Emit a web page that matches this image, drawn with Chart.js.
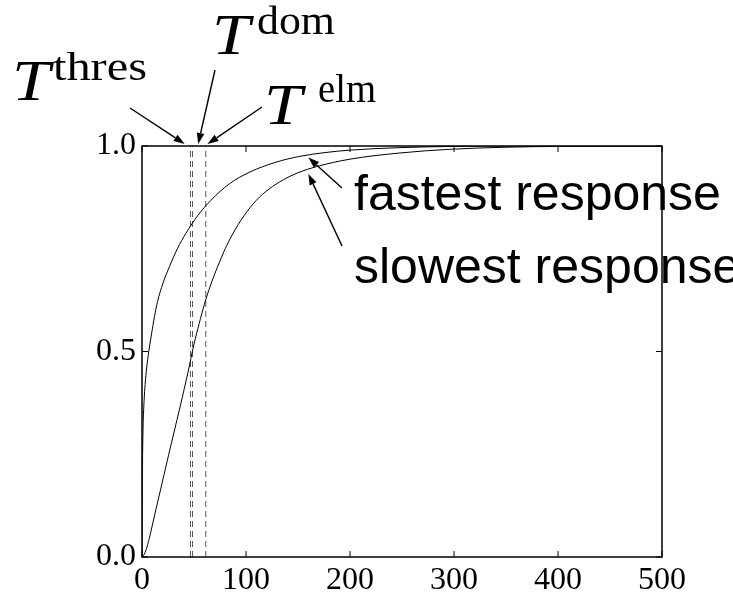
<!DOCTYPE html>
<html>
<head>
<meta charset="utf-8">
<script src="https://cdn.jsdelivr.net/npm/chart.js@4.4.1/dist/chart.umd.min.js"></script>
<style>
  html, body { margin: 0; padding: 0; background: #fff; }
  canvas { display: block; }
</style>
</head>
<body>
<canvas id="chart" width="733" height="593"></canvas>
<script>
// values: time vs normalised response
const fastT = [0, 0.3, 0.7, 1.2, 2, 3, 4.5, 6.5, 9, 12, 15, 20, 26.3, 34, 42.3, 54, 66.3, 84, 104, 128, 152, 176, 200, 248, 300, 350, 500];
const fastY = [0, 0.17, 0.27, 0.33, 0.38, 0.42, 0.46, 0.5, 0.54, 0.585, 0.622, 0.665, 0.706, 0.75, 0.788, 0.832, 0.868, 0.908, 0.937, 0.96, 0.975, 0.984, 0.99, 0.996, 0.999, 1, 1];
const slowT = [0, 2, 4, 7, 10, 13.5, 17.5, 21.5, 29.5, 37.5, 44, 50, 55, 60, 66, 72.8, 80, 87.2, 98, 110, 122, 136, 150, 168, 200, 248, 296, 350, 400, 500];
const slowY = [0, 0.006, 0.018, 0.045, 0.078, 0.117, 0.16, 0.204, 0.29, 0.375, 0.447, 0.518, 0.568, 0.615, 0.662, 0.707, 0.75, 0.786, 0.83, 0.868, 0.895, 0.918, 0.935, 0.95, 0.968, 0.983, 0.992, 0.997, 0.999, 1];

// dashed time markers
const markerNames = ["thres", "dom", "elm"];
const markerTimes = [46.6, 48.6, 61.3];

const xTicks = [0, 100, 200, 300, 400, 500];
const yTicks = [0, 0.5, 1];
const curveNames = ["fastest response", "slowest response"];

const pts = (ts, ys) => ts.map((t, i) => ({ x: t, y: ys[i] }));

const datasets = [
  { data: pts(fastT, fastY), borderColor: "#000", borderWidth: 1, cubicInterpolationMode: "monotone" },
  { data: pts(slowT, slowY), borderColor: "#000", borderWidth: 1, cubicInterpolationMode: "monotone" },
];
markerTimes.forEach((t) => {
  datasets.push({
    data: [{ x: t, y: 0 }, { x: t, y: 1 }],
    borderColor: "#555",
    borderWidth: 1,
    borderDash: [6, 4],
  });
});

function arrow(ctx, x1, y1, x2, y2) {
  const ang = Math.atan2(y2 - y1, x2 - x1);
  const len = 11, half = 3.8;
  const bx = x2 - len * Math.cos(ang), by = y2 - len * Math.sin(ang);
  ctx.beginPath();
  ctx.moveTo(x1, y1);
  ctx.lineTo(bx, by);
  ctx.stroke();
  ctx.beginPath();
  ctx.moveTo(x2, y2);
  ctx.lineTo(bx + half * Math.sin(ang), by - half * Math.cos(ang));
  ctx.lineTo(bx - half * Math.sin(ang), by + half * Math.cos(ang));
  ctx.closePath();
  ctx.fill();
}

// draw text stretched horizontally to a given width
function fitText(ctx, str, x, y, width) {
  const sx = width / ctx.measureText(str).width;
  ctx.save();
  ctx.translate(x, y);
  ctx.scale(sx, 1);
  ctx.fillText(str, 0, 0);
  ctx.restore();
}

// frame, inward ticks on every side, labels and arrows
const decorations = {
  id: "decorations",
  afterDatasetsDraw(chart) {
    const { ctx, chartArea: a, scales: { x, y } } = chart;
    ctx.save();
    ctx.strokeStyle = "#000";
    ctx.fillStyle = "#000";
    ctx.lineWidth = 1.5;
    ctx.strokeRect(a.left, a.top, a.right - a.left, a.bottom - a.top);

    ctx.lineWidth = 1;
    ctx.beginPath();
    xTicks.forEach((v) => {
      const px = x.getPixelForValue(v);
      ctx.moveTo(px, a.bottom); ctx.lineTo(px, a.bottom - 6);
      ctx.moveTo(px, a.top); ctx.lineTo(px, a.top + 6);
    });
    yTicks.forEach((v) => {
      const py = y.getPixelForValue(v);
      ctx.moveTo(a.left, py); ctx.lineTo(a.left + 6, py);
      ctx.moveTo(a.right, py); ctx.lineTo(a.right - 6, py);
    });
    ctx.stroke();

    // T labels above the plot
    const top = y.getPixelForValue(1) - 2;
    const tips = [41, 54, 63];
    const starts = [[130, 108], [215, 70], [262, 107]];
    const tPos = [[12, 100], [212, 54], [264, 124]];
    const supPos = [[53, 80], [257, 34], [318, 102]];
    const supWidth = [94, 78, 58];
    ctx.lineWidth = 1.4;
    ctx.textBaseline = "alphabetic";
    ctx.textAlign = "left";
    markerNames.forEach((name, i) => {
      arrow(ctx, starts[i][0], starts[i][1], x.getPixelForValue(tips[i]), top);
      ctx.font = 'italic 58px "Liberation Serif"';
      fitText(ctx, "T", tPos[i][0], tPos[i][1], 38);
      ctx.font = '40px "Liberation Serif"';
      fitText(ctx, name, supPos[i][0], supPos[i][1], supWidth[i]);
    });

    // curve labels
    const curveTips = [[160, 0.972], [160, 0.932]];
    const curveStarts = [[342, 188], [342, 246]];
    const textBase = [210, 283];
    ctx.font = '50px "Liberation Sans"';
    curveNames.forEach((name, i) => {
      arrow(ctx, curveStarts[i][0], curveStarts[i][1],
        x.getPixelForValue(curveTips[i][0]), y.getPixelForValue(curveTips[i][1]));
      ctx.fillText(name, 354, textBase[i]);
    });
    ctx.restore();
  },
};

const tickFont = { family: '"Liberation Serif", serif', size: 32 };

new Chart(document.getElementById("chart").getContext("2d"), {
  type: "line",
  data: { datasets },
  options: {
    responsive: false,
    animation: false,
    devicePixelRatio: 1,
    layout: { padding: { top: 146, right: 71, left: 0, bottom: 0 } },
    elements: { point: { radius: 0 } },
    plugins: { legend: { display: false }, tooltip: { enabled: false } },
    scales: {
      x: {
        type: "linear",
        min: 0,
        max: 500,
        grid: { display: false, drawTicks: false },
        border: { display: false },
        afterBuildTicks: (s) => { s.ticks = xTicks.map((v) => ({ value: v })); },
        afterFit: (s) => { s.height = 36; },
        ticks: { color: "#000", font: tickFont, padding: 4, maxRotation: 0 },
      },
      y: {
        type: "linear",
        min: 0,
        max: 1,
        grid: { display: false, drawTicks: false },
        border: { display: false },
        afterBuildTicks: (s) => { s.ticks = yTicks.map((v) => ({ value: v })); },
        afterFit: (s) => { s.width = 142; },
        ticks: {
          color: "#000",
          font: tickFont,
          padding: 6,
          callback: (v) => v.toFixed(1),
        },
      },
    },
  },
  plugins: [decorations],
});
</script>
</body>
</html>
